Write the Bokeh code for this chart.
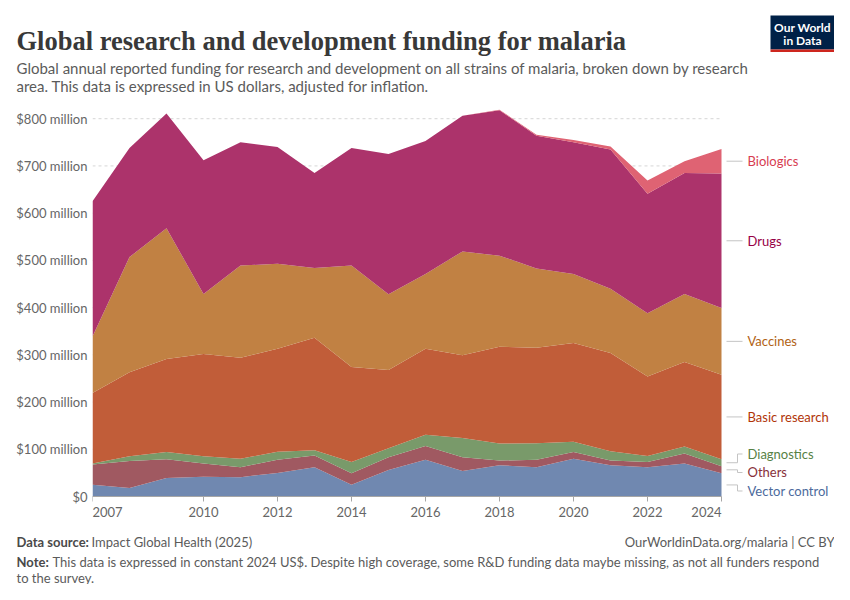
import numpy as np
import pandas as pd
from bokeh.plotting import figure
from bokeh.layouts import column
from bokeh.models import ColumnDataSource, FixedTicker, Range1d
from bokeh.core.properties import value
from bokeh.embed import file_html
from bokeh.resources import INLINE

# ---------------- data (US$ million, constant 2024 US$) ----------------
years = list(range(2007, 2025))
vector_control = [25, 18, 39, 42, 41, 50, 62, 25, 56, 78, 54, 66, 62, 80, 66, 62, 70, 49]
others = [43, 57, 40, 28, 21, 28, 25, 24, 27, 29, 29, 10, 16, 14, 10, 11, 21, 15]
diagnostics = [2, 10, 15, 15, 18, 17, 11, 24, 19, 24, 41, 36, 35, 22, 20, 13, 15, 15]
basic_research = [149, 178, 197, 217, 214, 218, 238, 201, 166, 182, 175, 205, 202, 209, 208, 168, 179, 179]
vaccines = [120, 244, 277, 127, 195, 180, 148, 215, 160, 158, 220, 193, 168, 146, 136, 134, 144, 141]
drugs = [286, 231, 243, 283, 261, 247, 201, 249, 297, 282, 287, 308, 281, 279, 295, 253, 256, 285]
biologics = [0, 0, 0, 0, 0, 0, 0, 0, 0, 0, 0, 1, 2, 5, 6, 28, 25, 52]

series_names = ["Vector control", "Others", "Diagnostics", "Basic research",
                "Vaccines", "Drugs", "Biologics"]
series_values = [vector_control, others, diagnostics, basic_research,
                 vaccines, drugs, biologics]
series_colors = ["#4c6a9c", "#883039", "#578145", "#b13507",
                 "#b16214", "#970046", "#d73c50"]

x_ticks = [2007, 2010, 2012, 2014, 2016, 2018, 2020, 2022, 2024]
y_ticks = [0, 100, 200, 300, 400, 500, 600, 700, 800]

title_text = "Global research and development funding for malaria"
subtitle_lines = [
    "Global annual reported funding for research and development on all strains of malaria, broken down by research",
    "area. This data is expressed in US dollars, adjusted for inflation.",
]
logo_lines = ["Our World", "in Data"]
source_bold = "Data source:"
source_text = "Impact Global Health (2025)"
url_text = "OurWorldinData.org/malaria | CC BY"
note_bold = "Note:"
note_lines = [
    "This data is expressed in constant 2024 US$. Despite high coverage, some R&D funding data maybe missing, as not all funders respond",
    "to the survey.",
]

# ---------------- geometry (page pixels) ----------------
W = 834
HEAD_H = 96            # header figure: page y 0..96
MAIN_TOP = HEAD_H      # main figure page y 96..526
MAIN_H = 430
AXIS_PANEL = 5         # room below the frame for the tick marks' panel
FOOT_TOP = MAIN_TOP + MAIN_H
FOOT_H = 58
FRAME_L, DATA_R, ZERO_Y = 92, 721, 496    # page px of 2007, 2024 and y=0
FRAME_T = MAIN_TOP
FRAME_BOTTOM = MAIN_TOP + MAIN_H - AXIS_PANEL
PX_PER_YEAR = (DATA_R - FRAME_L) / (years[-1] - years[0])
PX_PER_M = 0.47226
X0 = years[0]
X1 = X0 + (W - FRAME_L) / PX_PER_YEAR

FONT = "Lato"
GRAY = "#5b5b5b"
AXIS_GRAY = "#666666"


def dx(px):
    return X0 + (px - FRAME_L) / PX_PER_YEAR


def dy(py):
    return (ZERO_Y - py) / PX_PER_M


def py_of(v):
    return ZERO_Y - v * PX_PER_M


Y0 = dy(FRAME_BOTTOM)
Y1 = dy(FRAME_T)


def blend(hex_color, alpha=0.8):
    h = hex_color.lstrip("#")
    rgb = [int(h[i:i + 2], 16) for i in (0, 2, 4)]
    out = [round(c * alpha + 255 * (1 - alpha)) for c in rgb]
    return "#%02x%02x%02x" % tuple(out)


def txt(fig, x, y, s, size="13px", color=GRAY, style="normal", align="left",
        baseline="middle", font=FONT):
    fig.text(x=[x], y=[y], text=[s], text_font=value(font), text_font_size=size,
             text_color=color, text_font_style=style, text_align=align,
             text_baseline=baseline)


def blank_fig(h):
    f = figure(width=W, height=h, x_range=Range1d(0, W), y_range=Range1d(h, 0),
               x_axis_type=None, y_axis_type=None, output_backend="svg",
               toolbar_location=None, min_border=0, frame_align=False)
    f.outline_line_color = None
    f.grid.visible = False
    return f


# ---------------- header ----------------
head = blank_fig(HEAD_H)
txt(head, 16, 40, title_text, size="26.5px", color="#383838", style="bold",
    baseline="alphabetic", font="Liberation Serif")
for i, line in enumerate(subtitle_lines):
    txt(head, 16, 67 + 18 * i, line, size="15px", baseline="alphabetic")
head.quad(left=[770], right=[834], top=[15], bottom=[49], fill_color="#002147",
          line_color=None)
head.quad(left=[770], right=[834], top=[49], bottom=[51.5], fill_color="#ce261e",
          line_color=None)
for i, line in enumerate(logo_lines):
    txt(head, 802, 27 + 12.5 * i, line, size="12px", color="white", style="bold",
        align="center")

# ---------------- main chart ----------------
data = {"year": years}
for n, v in zip(series_names, series_values):
    data[n] = v
src = ColumnDataSource(pd.DataFrame(data))

p = figure(width=W, height=MAIN_H,
           x_range=Range1d(X0, X1), y_range=Range1d(Y0, Y1),
           output_backend="svg", toolbar_location=None, frame_align=False,
           min_border_left=FRAME_L, min_border_right=0,
           min_border_top=0, min_border_bottom=AXIS_PANEL)
p.outline_line_color = None

# dashed horizontal gridlines over the data span only
p.segment(x0=[years[0]] * len(y_ticks), x1=[years[-1]] * len(y_ticks),
          y0=y_ticks, y1=y_ticks, line_color="#d6d6d6", line_dash="3 3",
          line_width=1, level="underlay")

p.varea_stack(stackers=series_names, x="year", source=src,
              fill_color=[blend(c) for c in series_colors])

# x axis drawn at y = 0; its labels are placed as OWID does (edge labels inside)
p.xaxis.ticker = FixedTicker(ticks=x_ticks)
p.xaxis.bounds = (years[0], years[-1])
p.xaxis.fixed_location = 0
p.xaxis.axis_line_color = "#a6a6a6"
p.xaxis.major_tick_line_color = "#a6a6a6"
p.xaxis.major_tick_out = 5
p.xaxis.major_tick_in = 0
p.xaxis.minor_tick_line_color = None
p.xaxis.major_label_standoff = 0
p.xaxis.major_label_overrides = {t: "" for t in x_ticks}
p.xaxis.major_label_text_font_size = "0px"

x_aligns = ["left"] + ["center"] * (len(x_ticks) - 2) + ["right"]
p.text(x=x_ticks, y=[dy(511)] * len(x_ticks), text=[str(t) for t in x_ticks],
       text_align=x_aligns, text_baseline="middle", text_font=value(FONT),
       text_font_size="13px", text_color=AXIS_GRAY)

p.yaxis.ticker = FixedTicker(ticks=y_ticks)
p.yaxis.major_label_overrides = {t: ("$0" if t == 0 else f"${t} million") for t in y_ticks}
p.yaxis.axis_line_color = None
p.yaxis.major_tick_line_color = None
p.yaxis.minor_tick_line_color = None
p.yaxis.major_tick_out = 0
p.yaxis.major_tick_in = 0
p.yaxis.major_label_standoff = 5
p.yaxis.major_label_text_font = FONT
p.yaxis.major_label_text_font_size = "13px"
p.yaxis.major_label_text_color = AXIS_GRAY
p.grid.visible = False

# right-hand series labels with collision avoidance
last_vals = [v[-1] for v in series_values]
cum = np.cumsum(last_vals)
anchors = [py_of(c - v / 2) for c, v in zip(cum, last_vals)]
pos = list(anchors)
GAP = 18.5
for _ in range(300):
    moved = False
    for i in range(len(pos) - 1):
        gap = pos[i] - pos[i + 1]
        if gap < GAP - 1e-6:
            d = (GAP - gap) / 2
            pos[i] += d
            pos[i + 1] -= d
            moved = True
    if not moved:
        break

xs, ys = [], []
for a, lp in zip(anchors, pos):
    if abs(a - lp) < 0.5:
        xs.append([dx(726), dx(742)])
        ys.append([dy(a), dy(a)])
    else:
        xs.append([dx(726), dx(737), dx(737), dx(742)])
        ys.append([dy(a), dy(a), dy(lp), dy(lp)])
p.multi_line(xs=xs, ys=ys, line_color="#c4c4c4", line_width=1)
p.text(x=[dx(747)] * len(series_names), y=[dy(lp) for lp in pos], text=series_names,
       text_color=series_colors, text_font=value(FONT), text_font_size="13px",
       text_baseline="middle", text_align="left")

# ---------------- footer ----------------
foot = blank_fig(FOOT_H)
txt(foot, 16, 541 - FOOT_TOP, source_bold, color="#4a4a4a", style="bold")
txt(foot, 91, 541 - FOOT_TOP, source_text)
txt(foot, 834, 541 - FOOT_TOP, url_text, align="right")
txt(foot, 16, 561 - FOOT_TOP, note_bold, color="#4a4a4a", style="bold")
txt(foot, 52, 561 - FOOT_TOP, note_lines[0])
txt(foot, 16, 577 - FOOT_TOP, note_lines[1])

layout = column(head, p, foot, spacing=0)
open("out.html", "w").write(file_html(layout, INLINE))
